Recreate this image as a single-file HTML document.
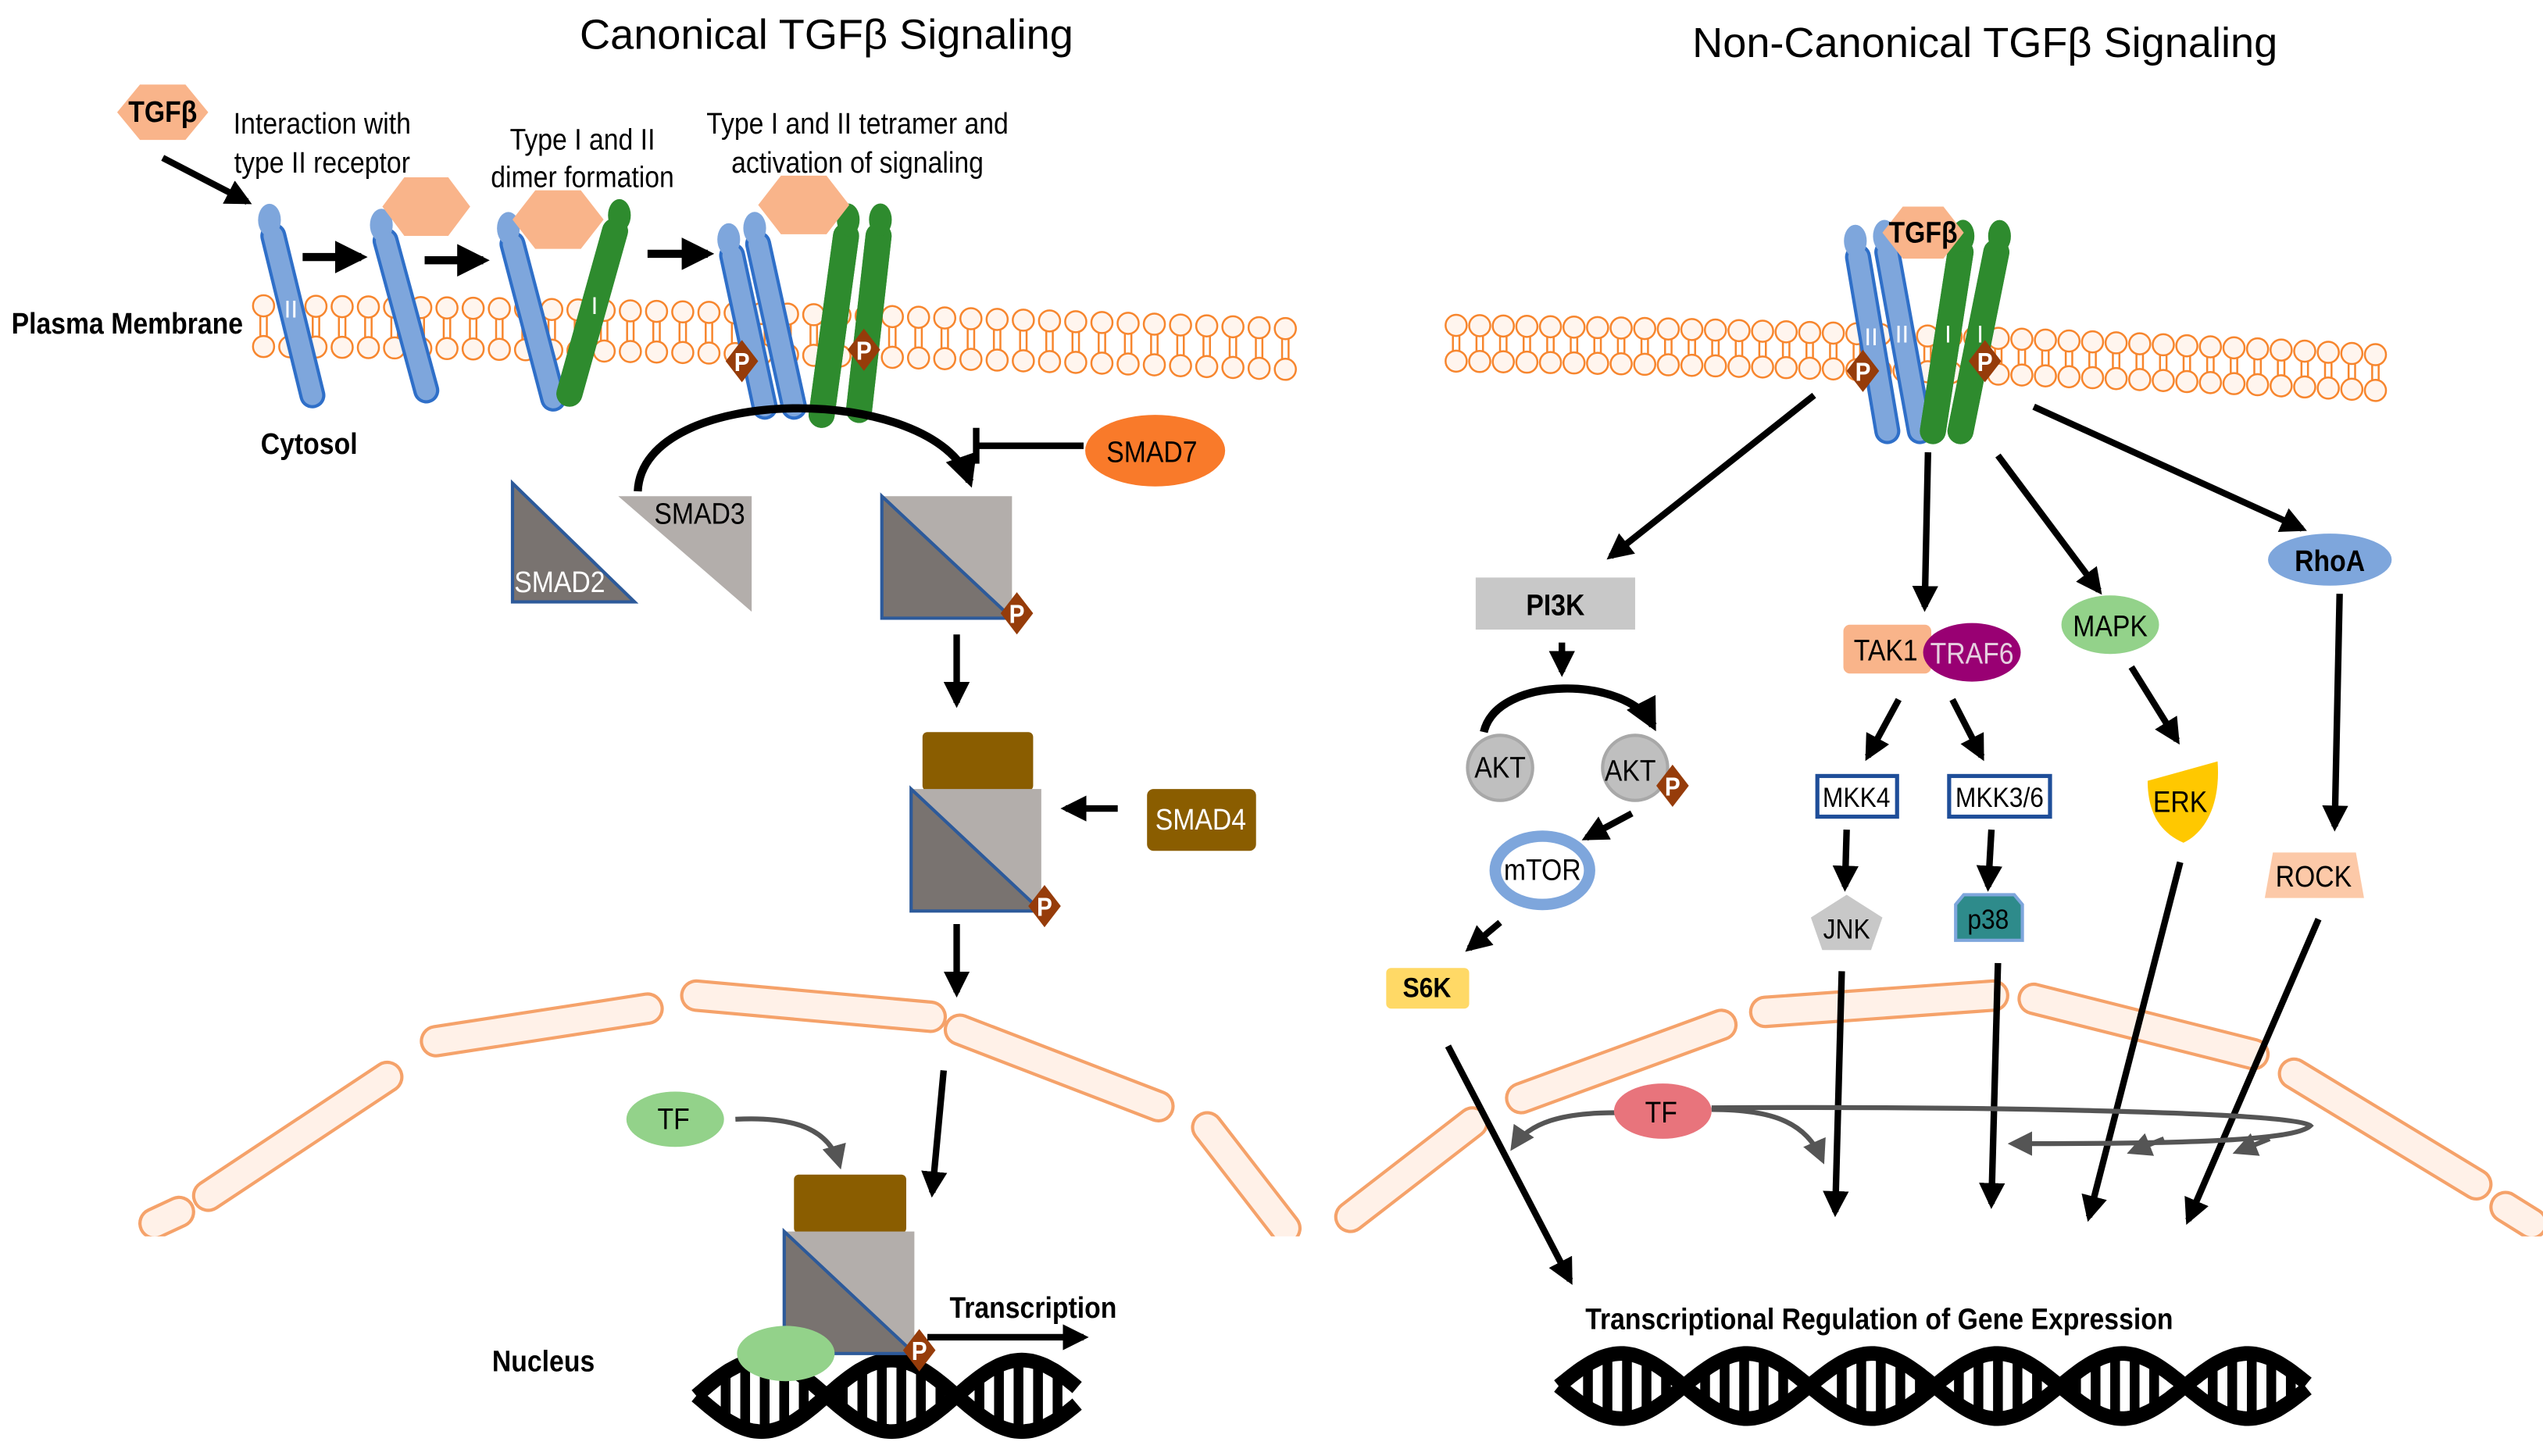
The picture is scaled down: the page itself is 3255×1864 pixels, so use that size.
<!DOCTYPE html>
<html><head><meta charset="utf-8">
<style>
html,body{margin:0;padding:0;background:#fff;}
svg{display:block;}
text{font-family:"Liberation Sans Narrow","Liberation Sans",sans-serif;}
.t{font-family:"Liberation Sans",sans-serif;}
.b{font-weight:bold;}
</style></head>
<body>
<svg id="s" width="3255" height="1864" viewBox="0 0 1563 895" preserveAspectRatio="none" xmlns="http://www.w3.org/2000/svg">
<defs>
<marker id="ah" viewBox="0 0 10 10" refX="8" refY="5" markerWidth="4" markerHeight="4" orient="auto" markerUnits="strokeWidth"><path d="M0,0 L10,5 L0,10 z" fill="#000"/></marker>
<marker id="ahg" viewBox="0 0 10 10" refX="8" refY="5" markerWidth="5" markerHeight="5" orient="auto" markerUnits="strokeWidth"><path d="M0,0 L10,5 L0,10 z" fill="#555"/></marker>
</defs>
<rect width="1563" height="895" fill="#fff"/>
<g id="env"></g>
<rect x="0" y="760" width="1563" height="135" fill="#fff"/>
<g id="mem"></g>
<g id="dna"></g>
<g id="main"></g>
</svg>
<script>
const NS="http://www.w3.org/2000/svg";
function add(parent,tag,attrs,txt){const e=document.createElementNS(NS,tag);for(const k in attrs)e.setAttribute(k,attrs[k]);if(txt!==undefined)e.textContent=txt;document.getElementById(parent).appendChild(e);return e;}
const segs=[[95,752,110,745],[128,735,238,662],[268,640,398,620],[428,612,572,625],[590,633,712,680],[742,693,790,755],
[830,748,905,690],[935,675,1058,630],[1085,622,1225,612],[1250,614,1385,648],[1410,660,1522,728],[1540,742,1556,752]];
segs.forEach(s=>{add('env','line',{x1:s[0],y1:s[1],x2:s[2],y2:s[3],stroke:'#f5a26a','stroke-width':20,'stroke-linecap':'round'});
add('env','line',{x1:s[0],y1:s[1],x2:s[2],y2:s[3],stroke:'#fff1e8','stroke-width':16,'stroke-linecap':'round'});});
function membrane(x0,x1,yt0,yt1,gap,n){for(let i=0;i<n;i++){const x=x0+(x1-x0)*i/(n-1);const t=i/(n-1);const yt=yt0+(yt1-yt0)*t*t*0.6+(yt1-yt0)*t*0.4;const yb=yt+gap;
add('mem','line',{x1:x-2,y1:yt+6,x2:x-2,y2:yb-6,stroke:'#f7862e','stroke-width':1.2});
add('mem','line',{x1:x+2,y1:yt+6,x2:x+2,y2:yb-6,stroke:'#f7862e','stroke-width':1.2});
add('mem','circle',{cx:x,cy:yt,r:6.5,fill:'#fff5ee',stroke:'#f7862e','stroke-width':1.2});
add('mem','circle',{cx:x,cy:yb,r:6.5,fill:'#fff5ee',stroke:'#f7862e','stroke-width':1.2});}}
membrane(162,790,188,202,25,40);
membrane(895,1460,200,218,22,40);
function dna(x0,x1,yc,amp,period){let p1='',p2='';for(let x=x0;x<=x1;x+=2){const a=Math.sin((x-x0)/period*2*Math.PI);p1+=(x==x0?'M':'L')+x+','+(yc-amp*a).toFixed(1);p2+=(x==x0?'M':'L')+x+','+(yc+amp*a).toFixed(1);}
for(let x=x0+6;x<x1;x+=12){const a=Math.sin((x-x0)/period*2*Math.PI);if(Math.abs(a)>0.35)add('dna','line',{x1:x,y1:yc-amp*a,x2:x,y2:yc+amp*a,stroke:'#000','stroke-width':6});}
add('dna','path',{d:p1,fill:'none',stroke:'#000','stroke-width':9});add('dna','path',{d:p2,fill:'none',stroke:'#000','stroke-width':9});}
dna(428,662,858,22,160);
dna(958,1418,852,20,154);
</script>
<script>
const m=document.getElementById('main');
function A(h){m.insertAdjacentHTML('beforeend',h);}
function T(x,y,s,sz,cls,fill,anc,sx){if(!sx){sx=0.9;sz=sz*1.06;}A(`<text transform="translate(${x},${y}) scale(${sx},1)" x="0" y="0" font-size="${sz}" ${cls?'class="'+cls+'"':''} fill="${fill||'#000'}" text-anchor="${anc||'middle'}">${s}</text>`);}
function hex(cx,cy,w,h,label){const q=w/4;A(`<polygon points="${cx-w/2},${cy} ${cx-q},${cy-h/2} ${cx+q},${cy-h/2} ${cx+w/2},${cy} ${cx+q},${cy+h/2} ${cx-q},${cy+h/2}" fill="#f9b48a"/>`);if(label)T(cx,cy+6,label,17,'b');}
function rec(x1,y1,x2,y2,blue,lab){const c=blue?'#7ea6dc':'#2e8b2e',o=blue?'#2f6fc8':'#237a23';
A(`<line x1="${x1}" y1="${y1}" x2="${x2}" y2="${y2}" stroke="${o}" stroke-width="16" stroke-linecap="round"/><line x1="${x1}" y1="${y1}" x2="${x2}" y2="${y2}" stroke="${c}" stroke-width="${blue?12:16}" stroke-linecap="round"/>`);
const dx=x2-x1,dy=y2-y1,L=Math.hypot(dx,dy);A(`<ellipse cx="${x1-dx/L*10}" cy="${y1-dy/L*10}" rx="7" ry="10" fill="${c}"/>`);
if(lab)A(`<text x="${x1+dx*0.45}" y="${y1+dy*0.45+6}" font-size="15" fill="#fff" text-anchor="middle">${lab}</text>`);}
function P(x,y){A(`<polygon points="${x},${y-13} ${x+10},${y} ${x},${y+13} ${x-10},${y}" fill="#963c0a"/>`);T(x,y+6,'P',15,'b','#fff');}
function ar(x1,y1,x2,y2,w){A(`<line x1="${x1}" y1="${y1}" x2="${x2}" y2="${y2}" stroke="#000" stroke-width="${w||4}" marker-end="url(#ah)"/>`);}
function smadSq(x,y){A(`<rect x="${x}" y="${y}" width="80" height="75" fill="#b3aeab"/><polygon points="${x},${y} ${x+80},${y+75} ${x},${y+75}" fill="#797370" stroke="#2d5a9a" stroke-width="2"/>`);}

T(508,30,'Canonical TGFβ Signaling',26,'t','#000','middle',1);
T(1220,35,'Non-Canonical TGFβ Signaling',26,'t','#000','middle',1);

hex(100,69,56,34,'TGFβ');
ar(100,97,152,124,4);
T(198,82,'Interaction with',17);T(198,106,'type II receptor',17);
T(358,92,'Type I and II',17);T(358,115,'dimer formation',17);
T(527,82,'Type I and II tetramer and',17);T(527,106,'activation of signaling',17);
rec(168,145,192,243,true,'II');
ar(186,158,222,158,5);
rec(237,148,262,240,true);
hex(262,127,54,36);
ar(261,160,297,160,5);
rec(315,150,340,245,true);
rec(378,142,350,242,false,'I');
hex(343,135,56,36);
ar(398,156,435,156,5);
rec(450,157,470,250,true);rec(466,150,488,250,true);
rec(520,145,505,255,false);rec(540,145,528,252,false);
hex(494,126,56,36);
P(456,222);P(531,215);
T(7,205,'Plasma Membrane',17,'b','#000','start');
T(190,279,'Cytosol',17,'b');
A(`<path d="M392,302 C395,235 575,235 596,296" fill="none" stroke="#000" stroke-width="5" marker-end="url(#ah)"/>`);
A(`<line x1="666" y1="274" x2="600" y2="274" stroke="#000" stroke-width="4"/><line x1="600" y1="263" x2="600" y2="285" stroke="#000" stroke-width="4"/>`);
A(`<ellipse cx="710" cy="277" rx="43" ry="22" fill="#f97a2a"/>`);T(708,284,'SMAD7',17);
A(`<polygon points="315,297 315,370 390,370" fill="#797370" stroke="#2d5a9a" stroke-width="2"/>`);T(344,364,'SMAD2',17,'','#fff');
A(`<polygon points="380,305 462,305 462,376" fill="#b3aeab"/>`);T(430,322,'SMAD3',17);
smadSq(542,305);P(625,377);
ar(588,390,588,432,4);
A(`<rect x="567" y="450" width="68" height="36" rx="3" fill="#8a5d00"/>`);smadSq(560,485);P(642,557);
A(`<rect x="705" y="485" width="67" height="38" rx="4" fill="#8a5d00"/>`);T(738,510,'SMAD4',17,'','#fff');
ar(687,497,655,497,4);
ar(588,568,588,610,4);
ar(580,658,573,733,4);
A(`<ellipse cx="415" cy="688" rx="30" ry="17" fill="#93d28a"/>`);T(414,694,'TF',17);
A(`<path d="M452,688 C490,686 510,695 516,716" fill="none" stroke="#555" stroke-width="3" marker-end="url(#ahg)"/>`);
A(`<rect x="488" y="722" width="69" height="36" rx="3" fill="#8a5d00"/>`);smadSq(482,757);
A(`<ellipse cx="483" cy="832" rx="30" ry="17" fill="#93d28a"/>`);P(565,830);
ar(570,822,666,822,4);
T(635,810,'Transcription',17,'b');
T(334,843,'Nucleus',17,'b');

rec(1142,158,1160,265,true,'II');rec(1160,155,1180,265,true,'II');
rec(1205,155,1188,265,false,'I');rec(1227,155,1205,265,false,'I');
hex(1182,143,50,32,'TGFβ');
P(1145,228);P(1220,222);
ar(1115,243,990,342,4);ar(1185,278,1183,373,4);ar(1228,280,1290,363,4);ar(1250,250,1415,325,4);
A(`<rect x="907" y="355" width="98" height="32" fill="#c8c8c8"/>`);T(956,378,'PI3K',17,'b');
ar(960,395,960,413,4);
A(`<path d="M912,450 C920,415 1000,415 1016,446" fill="none" stroke="#000" stroke-width="5" marker-end="url(#ah)"/>`);
A(`<circle cx="922" cy="472" r="20" fill="#bfbfbf" stroke="#a8a8a8" stroke-width="2"/><circle cx="1005" cy="472" r="20" fill="#bfbfbf" stroke="#a8a8a8" stroke-width="2"/>`);
T(922,478,'AKT',17);T(1002,480,'AKT',17);P(1028,483);
ar(1003,500,975,515,4);
A(`<ellipse cx="948" cy="535" rx="29" ry="21" fill="#fff" stroke="#7ea6dc" stroke-width="7"/>`);T(948,541,'mTOR',17);
ar(922,567,903,583,4);
A(`<rect x="852" y="595" width="51" height="25" rx="3" fill="#ffd966"/>`);T(877,613,'S6K',16,'b');
ar(890,643,965,787,4);
A(`<rect x="1133" y="384" width="54" height="30" rx="4" fill="#f9b48a"/><ellipse cx="1212" cy="401" rx="30" ry="18" fill="#990073"/>`);
T(1159,406,'TAK1',17);T(1212,408,'TRAF6',17,'','#e6d0e0');
ar(1167,430,1148,465,4);ar(1200,430,1218,465,4);
A(`<rect x="1117" y="477" width="49" height="25" fill="#fff" stroke="#1f4e99" stroke-width="2.5"/><rect x="1198" y="477" width="62" height="25" fill="#fff" stroke="#1f4e99" stroke-width="2.5"/>`);
T(1141,496,'MKK4',16);T(1229,496,'MKK3/6',16);
ar(1135,510,1134,545,4);ar(1224,510,1222,545,4);
A(`<polygon points="1135,550 1157,564 1150,584 1120,584 1113,564" fill="#c8c8c8"/>`);T(1135,577,'JNK',16);
A(`<polygon points="1207,550 1238,550 1243,556 1243,578 1202,578 1202,556" fill="#2e8b8b" stroke="#7ea6dc" stroke-width="2"/>`);T(1222,571,'p38',16);
A(`<ellipse cx="1297" cy="384" rx="30" ry="18" fill="#93d28a"/>`);T(1297,391,'MAPK',17);
ar(1310,410,1338,455,4);
A(`<path d="M1320,480 L1363,468 C1365,495 1355,512 1342,518 C1328,512 1320,500 1320,480 z" fill="#ffc800"/>`);T(1340,499,'ERK',17);
A(`<ellipse cx="1432" cy="344" rx="38" ry="16" fill="#7ea6dc"/>`);T(1432,351,'RhoA',17,'b');
ar(1438,365,1435,508,4);
A(`<polygon points="1397,524 1448,524 1453,552 1392,552" fill="#fcc9a8"/>`);T(1422,545,'ROCK',17);
ar(1132,597,1128,745,4);ar(1228,592,1224,740,4);ar(1340,530,1284,748,4);ar(1425,565,1345,750,4);
A(`<path d="M1052,681 C1200,680 1410,683 1420,692 C1410,702 1330,703 1237,703" fill="none" stroke="#555" stroke-width="3" marker-end="url(#ahg)"/>`);
A(`<path d="M1052,682 C1090,682 1110,690 1120,713" fill="none" stroke="#555" stroke-width="3" marker-end="url(#ahg)"/>`);
A(`<path d="M1330,700 L1310,708" stroke="#555" stroke-width="3" marker-end="url(#ahg)"/><path d="M1395,700 L1375,708" stroke="#555" stroke-width="3" marker-end="url(#ahg)"/>`);
A(`<path d="M993,684 C960,684 940,690 930,705" fill="none" stroke="#555" stroke-width="3" marker-end="url(#ahg)"/>`);
A(`<ellipse cx="1022" cy="683" rx="30" ry="17" fill="#e8747c"/>`);T(1021,690,'TF',17);
T(1155,817,'Transcriptional Regulation of Gene Expression',17,'b');
</script>
</body></html>
